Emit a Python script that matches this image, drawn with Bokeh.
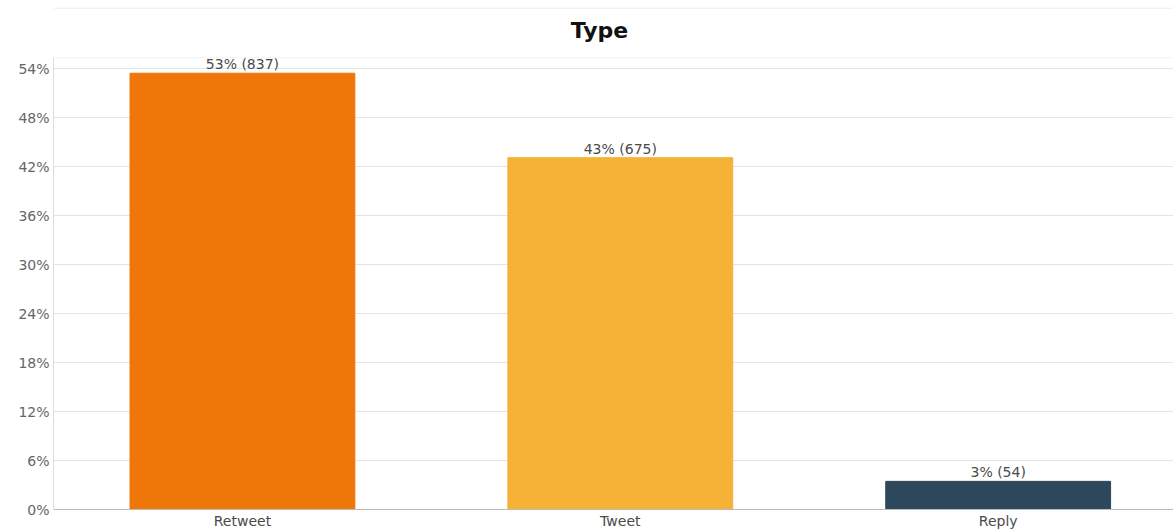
from bokeh.plotting import figure
from bokeh.models import ColumnDataSource, Range1d, FixedTicker, Label, Span
from bokeh.core.properties import value
from bokeh.embed import file_html
from bokeh.resources import INLINE

# Tweet types and their counts
categories = ["Retweet", "Tweet", "Reply"]
counts = [837, 675, 54]
colors = ["#EF7609", "#F5B236", "#2D485C"]
y_ticks = [0, 6, 12, 18, 24, 30, 36, 42, 48, 54]

total = sum(counts)
shares = [c / total * 100 for c in counts]
labels = [f"{round(s)}% ({c})" for s, c in zip(shares, counts)]
slots = [i + 0.5 for i in range(len(categories))]

source = ColumnDataSource(dict(x=slots, cat=categories, share=shares,
                               color=colors, label=labels))

FONT = "DejaVu Sans"

p = figure(width=1173, height=531, output_backend="svg", toolbar_location=None,
           x_range=Range1d(0, 2.964), y_range=Range1d(0, 61.5),
           min_border_left=53, min_border_right=0, min_border_top=7,
           min_border_bottom=0)
p.title.visible = False

p.vbar(x="x", top="share", width=0.595, bottom=0, color="color", source=source)
p.text(x="x", y="share", text="label", source=source, text_align="center",
       text_baseline="bottom", y_offset=-1, text_font=value(FONT),
       text_font_size="14px", text_color="#4a4a4a")

# heading band: rules above and below the title
p.add_layout(Span(location=61.43, dimension="width", line_color="#e8e8e8",
                  line_width=1))
p.add_layout(Span(location=55.35, dimension="width", line_color="#f3f3f3",
                  line_width=1))
p.add_layout(Label(x=1.445, y=58.7, text="Type", text_align="center",
                   text_baseline="middle", text_font=FONT,
                   text_font_size="22px", text_font_style="bold",
                   text_color="#111111"))

p.outline_line_color = None
p.background_fill_color = "white"
p.border_fill_color = "white"

p.xgrid.visible = False
p.ygrid.ticker = FixedTicker(ticks=y_ticks)
p.ygrid.grid_line_color = "#e4e4e4"

p.yaxis.ticker = FixedTicker(ticks=y_ticks)
p.yaxis.bounds = (0, 55.35)
p.yaxis.major_label_overrides = {t: f"{t}%" for t in y_ticks}
p.yaxis.axis_line_color = "#dddddd"
p.yaxis.major_tick_line_color = None
p.yaxis.minor_tick_line_color = None
p.yaxis.major_tick_out = 0
p.yaxis.major_tick_in = 0
p.yaxis.major_label_standoff = 4
p.yaxis.major_label_text_font = FONT
p.yaxis.major_label_text_font_size = "14px"
p.yaxis.major_label_text_color = "#666666"

p.xaxis.ticker = FixedTicker(ticks=slots)
p.xaxis.major_label_overrides = {s: c for s, c in zip(slots, categories)}
p.xaxis.axis_line_color = "#bbbbbb"
p.xaxis.major_tick_line_color = None
p.xaxis.minor_tick_line_color = None
p.xaxis.major_tick_out = 0
p.xaxis.major_tick_in = 0
p.xaxis.major_label_standoff = 3
p.xaxis.major_label_text_font = FONT
p.xaxis.major_label_text_font_size = "14px"
p.xaxis.major_label_text_color = "#4a4a4a"

open("out.html", "w").write(file_html(p, INLINE))
